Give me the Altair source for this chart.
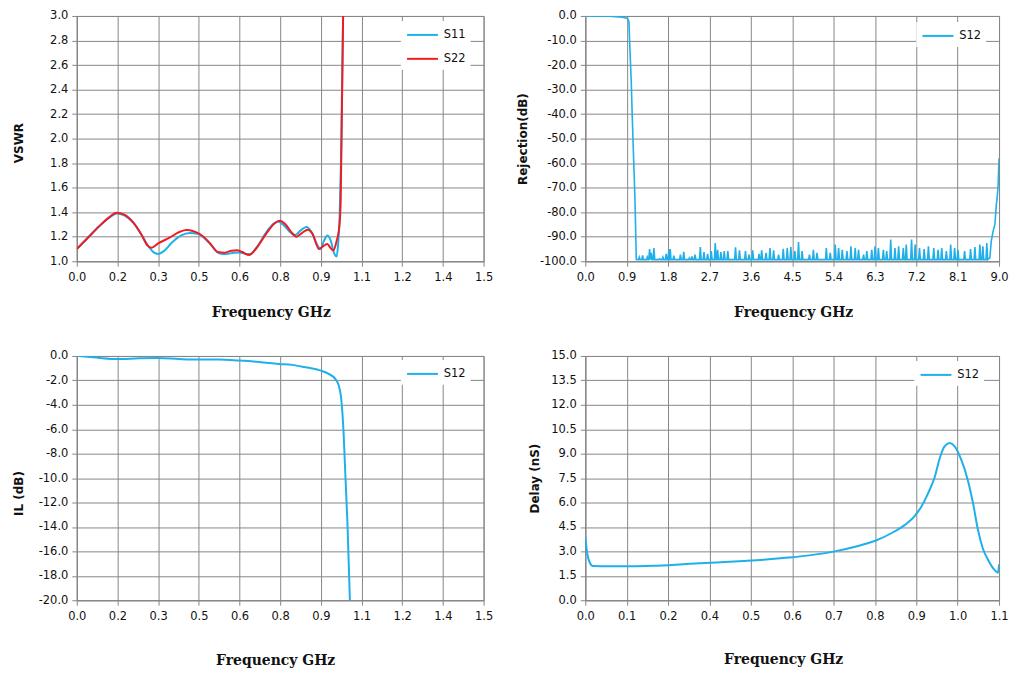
import altair as alt
import pandas as pd

BLUE = "#1FB0EC"
RED = "#EE1D23"
GRID = "#878787"
TXT = "#111111"
LABEL_FONT = "DejaVu Sans"
TITLE_FONT = "DejaVu Serif"

# ---------------- VSWR (top-left) ----------------
s11_f = [0.000, 0.040, 0.080, 0.120, 0.147, 0.175, 0.210, 0.240, 0.265, 0.285, 0.300,
         0.320, 0.350, 0.385, 0.416, 0.445, 0.470, 0.500, 0.525, 0.550, 0.580, 0.600,
         0.622, 0.640, 0.665, 0.700, 0.725, 0.742, 0.765, 0.790, 0.805, 0.825, 0.846,
         0.865, 0.885, 0.899, 0.912, 0.924, 0.936, 0.950, 0.958, 0.964, 0.969, 0.974,
         0.978, 0.982]
s11_v = [1.10, 1.19, 1.28, 1.355, 1.39, 1.375, 1.31, 1.21, 1.12, 1.07, 1.06,
         1.08, 1.15, 1.21, 1.23, 1.225, 1.19, 1.12, 1.065, 1.058, 1.07, 1.072,
         1.06, 1.06, 1.12, 1.24, 1.305, 1.325, 1.29, 1.23, 1.214, 1.25, 1.28,
         1.24, 1.14, 1.10, 1.17, 1.209, 1.17, 1.06, 1.038, 1.15, 1.35, 1.8,
         2.4, 3.0]
s22_f = [0.000, 0.040, 0.080, 0.120, 0.147, 0.175, 0.210, 0.240, 0.260, 0.275, 0.300,
         0.340, 0.380, 0.404, 0.430, 0.455, 0.490, 0.520, 0.545, 0.570, 0.590, 0.610,
         0.636, 0.660, 0.700, 0.730, 0.748, 0.770, 0.790, 0.810, 0.830, 0.852, 0.870,
         0.893, 0.910, 0.924, 0.935, 0.946, 0.957, 0.969, 0.973, 0.978, 0.982]
s22_v = [1.10, 1.19, 1.28, 1.36, 1.395, 1.38, 1.31, 1.21, 1.13, 1.11, 1.145,
         1.19, 1.24, 1.254, 1.245, 1.22, 1.15, 1.075, 1.07, 1.085, 1.09, 1.075,
         1.05, 1.10, 1.23, 1.31, 1.33, 1.30, 1.24, 1.20, 1.23, 1.257, 1.22,
         1.10, 1.125, 1.14, 1.11, 1.087, 1.154, 1.306, 1.49, 2.3, 3.0]

f15_ticks = [0.0, 0.15, 0.3, 0.45, 0.6, 0.75, 0.9, 1.05, 1.2, 1.35, 1.5]
f15_labels = ["0.0", "0.2", "0.3", "0.5", "0.6", "0.8", "0.9", "1.1", "1.2", "1.4", "1.5"]
vswr_ticks = [1.0, 1.2, 1.4, 1.6, 1.8, 2.0, 2.2, 2.4, 2.6, 2.8, 3.0]

# ---------------- Rejection (top-right) ----------------
rej_f = [0.0, 0.52, 0.81, 0.92, 0.95, 0.97, 1.00, 1.02, 1.06, 1.08, 1.11]
rej_v = [0.0, -0.14, -0.5, -1.0, -2.3, -13.0, -26.7, -40.0, -63.0, -74.0, -99.3]
rej_floor = -99.35
spike_f = [1.175, 1.247, 1.349, 1.399, 1.435, 1.493, 1.615, 1.688, 1.760, 1.818, 1.847,
           1.926, 2.070, 2.142, 2.264, 2.322, 2.387, 2.503, 2.582, 2.661, 2.741, 2.827,
           2.878, 2.950, 3.022, 3.101, 3.268, 3.354, 3.484, 3.562, 3.642, 3.779, 3.837,
           3.931, 4.017, 4.097, 4.205, 4.306, 4.393, 4.471, 4.558, 4.638, 4.717, 4.876,
           4.962, 5.041, 5.243, 5.329, 5.437, 5.510, 5.590, 5.691, 5.779, 5.871, 5.944,
           6.053, 6.124, 6.231, 6.303, 6.376, 6.484, 6.556, 6.643, 6.736, 6.816, 6.917,
           6.982, 7.097, 7.176, 7.270, 7.371, 7.464, 7.580, 7.674, 7.753, 7.854, 7.948,
           8.034, 8.106, 8.251, 8.381, 8.475, 8.583, 8.648, 8.734]
spike_v = [-98.3, -97.6, -98.3, -95.0, -96.6, -94.6, -99.0, -98.3, -97.0, -95.3, -95.0,
           -97.7, -97.3, -96.2, -98.7, -98.0, -97.3, -94.2, -96.3, -97.0, -95.9, -92.6,
           -95.3, -96.3, -95.9, -95.9, -94.3, -95.5, -95.9, -97.3, -95.5, -97.0, -95.5,
           -96.6, -94.6, -95.5, -97.3, -94.9, -94.6, -94.2, -95.9, -92.2, -95.9, -97.3,
           -95.3, -96.6, -94.6, -96.6, -93.2, -94.6, -95.3, -95.9, -93.9, -94.6, -95.3,
           -97.3, -95.9, -95.3, -93.9, -94.6, -95.3, -95.9, -91.2, -94.6, -93.9, -94.6,
           -93.2, -91.2, -93.2, -94.6, -95.0, -93.9, -94.6, -95.3, -94.6, -95.9, -93.2,
           -94.6, -95.3, -95.9, -95.0, -94.2, -93.2, -93.9, -92.6]
rise_f = [8.80, 8.83, 8.87, 8.91, 8.94, 8.96, 8.98, 9.00]
rise_v = [-98.6, -91.9, -87.8, -85.0, -77.0, -74.0, -68.8, -58.0]

rej_x_ticks = [0.0, 0.9, 1.8, 2.7, 3.6, 4.5, 5.4, 6.3, 7.2, 8.1, 9.0]
rej_y_ticks = [-100, -90, -80, -70, -60, -50, -40, -30, -20, -10, 0]

# ---------------- IL (bottom-left) ----------------
il_f = [0.000, 0.040, 0.083, 0.150, 0.200, 0.230, 0.300, 0.377, 0.450, 0.524, 0.598,
        0.672, 0.745, 0.794, 0.843, 0.900, 0.929, 0.953, 0.966, 0.975, 0.984, 0.990,
        0.998, 1.004, 1.007]
il_v = [0.00, -0.07, -0.16, -0.25, -0.22, -0.19, -0.16, -0.25, -0.30, -0.30, -0.38,
        -0.49, -0.65, -0.73, -0.93, -1.20, -1.47, -1.88, -2.42, -3.5, -6.4, -9.6,
        -13.7, -17.8, -20.0]
il_y_ticks = [-20, -18, -16, -14, -12, -10, -8, -6, -4, -2, 0]

# ---------------- Delay (bottom-right) ----------------
dl_f = [0.000, 0.005, 0.012, 0.020, 0.060, 0.120, 0.180, 0.240, 0.300, 0.360, 0.420,
        0.480, 0.540, 0.600, 0.663, 0.720, 0.771, 0.822, 0.849, 0.876, 0.893, 0.911,
        0.929, 0.942, 0.955, 0.969, 0.982, 1.000, 1.017, 1.031, 1.044, 1.057, 1.071,
        1.088, 1.097, 1.100]
dl_v = [3.9, 2.9, 2.3, 2.10, 2.08, 2.08, 2.11, 2.18, 2.27, 2.33, 2.41,
        2.50, 2.62, 2.77, 3.00, 3.30, 3.65, 4.22, 4.61, 5.18, 5.73, 6.55,
        7.57, 8.69, 9.45, 9.65, 9.45, 8.60, 7.37, 5.94, 4.31, 3.18, 2.47,
        1.86, 1.69, 2.20]
dl_x_ticks = [0.0, 0.11, 0.22, 0.33, 0.44, 0.55, 0.66, 0.77, 0.88, 0.99, 1.1]
dl_x_labels = ["0.0", "0.1", "0.2", "0.4", "0.5", "0.6", "0.7", "0.8", "0.9", "1.0", "1.1"]
dl_y_ticks = [0.0, 1.5, 3.0, 4.5, 6.0, 7.5, 9.0, 10.5, 12.0, 13.5, 15.0]

# ---------------- tables ----------------
vswr_df = pd.concat([
    pd.DataFrame({"f": s11_f, "v": s11_v, "s": "S11", "o": range(len(s11_f))}),
    pd.DataFrame({"f": s22_f, "v": s22_v, "s": "S22", "o": range(len(s22_f))}),
])
rej_pts = list(zip(rej_f, rej_v))
for f, v in zip(spike_f, spike_v):
    rej_pts += [(f - 0.018, rej_floor), (f, v), (f + 0.018, rej_floor)]
rej_pts += list(zip(rise_f, rise_v))
rej_df = pd.DataFrame(rej_pts, columns=["f", "v"])
rej_df["s"] = "S12"
rej_df["o"] = range(len(rej_df))
il_df = pd.DataFrame({"f": il_f, "v": il_v, "s": "S12", "o": range(len(il_f))})
dl_df = pd.DataFrame({"f": dl_f, "v": dl_v, "s": "S12", "o": range(len(dl_f))})

NEG1 = "(datum.value < 0 ? '-' : '') + format(abs(datum.value), '.1f')"


def lookup_expr(labels, step):
    return "[" + ",".join("'%s'" % l for l in labels) + "][round(datum.value / %s)]" % step


F15 = lookup_expr(f15_labels, 0.15)
F11 = lookup_expr(dl_x_labels, 0.11)


def xaxis(ticks, expr, tx, ty):
    return alt.Axis(values=ticks, labelExpr=expr, title="Frequency GHz", titleX=tx,
                    titleY=ty, titleBaseline="middle", titleAlign="center")


def yaxis(ticks, title, tx, ty):
    return alt.Axis(values=ticks, labelExpr=NEG1, title=title, titleX=tx, titleY=ty,
                    titleBaseline="middle", titleAlign="center", titleAngle=-90)


def legend(lx, ly):
    return alt.Legend(orient="none", legendX=lx, legendY=ly, title=None, fillColor="white",
                      padding=5, symbolType="M-1,0H3", symbolSize=240, symbolStrokeWidth=2,
                      labelFont=LABEL_FONT, labelFontSize=11.5, labelColor=TXT,
                      labelOffset=20, rowPadding=9)


def panel(df, dom_x, dom_y, ax, ay, dom_s, rng_s, lg, w, h, interp, sw):
    return alt.Chart(df).mark_line(interpolate=interp, strokeWidth=sw, clip=True).encode(
        x=alt.X("f:Q", scale=alt.Scale(domain=dom_x, nice=False, zero=False), axis=ax),
        y=alt.Y("v:Q", scale=alt.Scale(domain=dom_y, nice=False, zero=False), axis=ay),
        color=alt.Color("s:N", scale=alt.Scale(domain=dom_s, range=rng_s), legend=lg),
        order="o:Q",
        detail="s:N",
    ).properties(width=w, height=h)


W_L, W_R, H_T, H_B = 408, 415, 246, 245

tl = panel(vswr_df, [0, 1.5], [1.0, 3.0],
           xaxis(f15_ticks, F15, 194.5, 51),
           yaxis(vswr_ticks, "VSWR", -58, H_T / 2 + 4),
           ["S11", "S22"], [BLUE, RED], legend(325, 5), W_L, H_T, "monotone", 2)
tr = panel(rej_df, [0, 9], [-100, 0],
           xaxis(rej_x_ticks, NEG1, 208.5, 51),
           yaxis(rej_y_ticks, "Rejection(dB)", -63, H_T / 2),
           ["S12"], [BLUE], legend(332, 6), W_R, H_T, "linear", 1.6)
bl = panel(il_df, [0, 1.5], [-20, 0],
           xaxis(f15_ticks, F15, 199, 60),
           yaxis(il_y_ticks, "IL (dB)", -58, H_B / 2 + 15),
           ["S12"], [BLUE], legend(325, 4), W_L, H_B, "monotone", 2)
br = panel(dl_df, [0, 1.1], [0, 15],
           xaxis(dl_x_ticks, F11, 198.5, 59),
           yaxis(dl_y_ticks, "Delay (nS)", -51, H_B / 2),
           ["S12"], [BLUE], legend(330, 5), W_R, H_B, "monotone", 2)

chart = alt.concat(tl, tr, bl, br, columns=2, spacing={"row": 29, "column": 22}).resolve_scale(
    color="independent", x="independent", y="independent"
).resolve_legend(color="independent").properties(
    padding={"left": 4, "top": 0, "right": 5, "bottom": 5}
).configure(background="white").configure_view(stroke=GRID, strokeWidth=1).configure_axis(
    grid=True, gridColor=GRID, gridWidth=1, gridOpacity=1,
    domainColor=GRID, domainWidth=1, tickColor=GRID, tickSize=5, tickWidth=1,
    labelFont=LABEL_FONT, labelFontSize=11.5, labelColor=TXT, labelPadding=5,
    labelFlush=False, labelOverlap=False, labelBound=False,
    titleFont=TITLE_FONT, titleFontSize=14, titleFontWeight="bold", titleColor=TXT,
).configure_axisY(
    titleFont=LABEL_FONT, titleFontSize=12, titleFontWeight="bold", labelPadding=4,
)

chart.save("out.html", embed_options={"renderer": "svg", "actions": False})
